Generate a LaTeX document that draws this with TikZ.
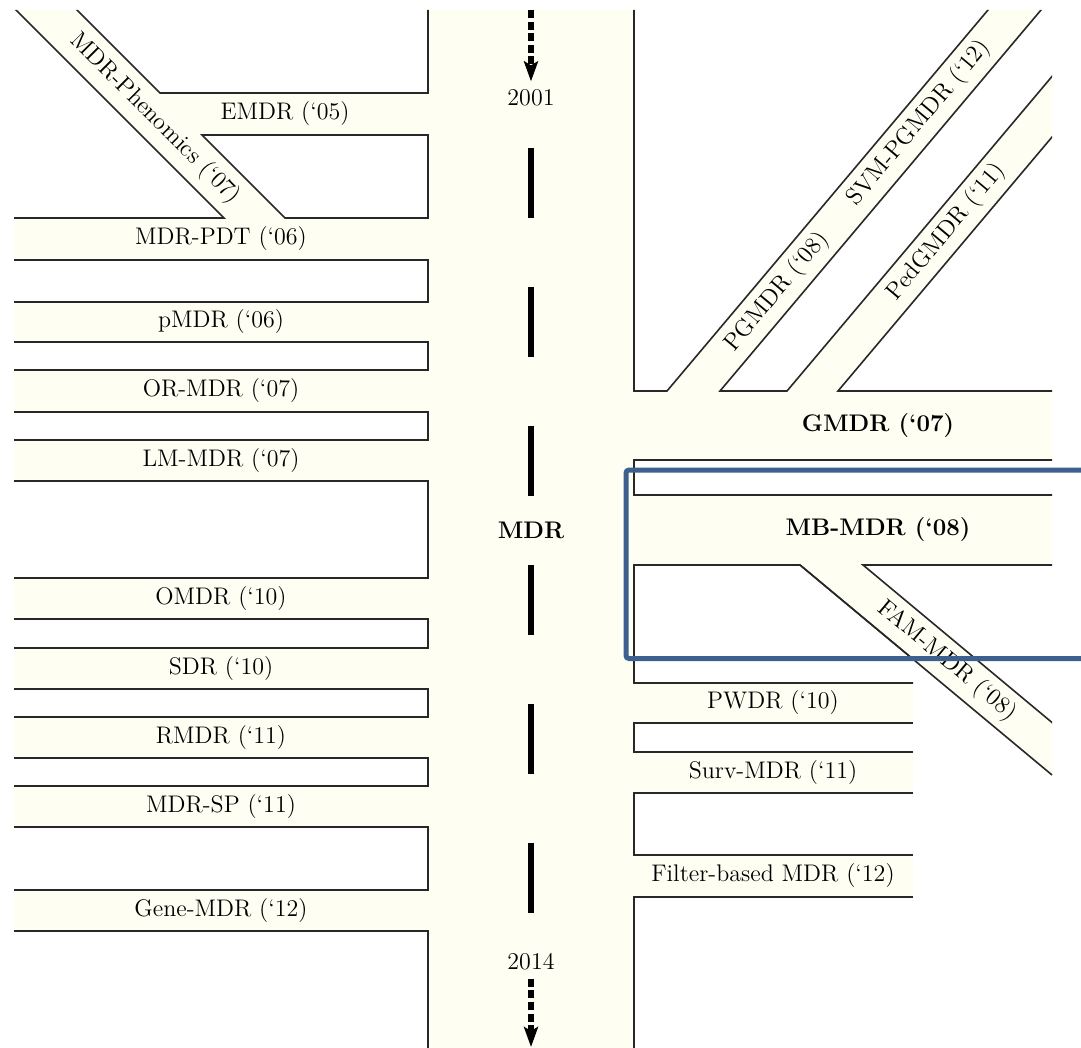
\documentclass[tikz,border=0pt]{standalone}
\usepackage{tikz}
\usetikzlibrary{arrows.meta}
\definecolor{ivory}{RGB}{255,254,243}
\definecolor{edgegrey}{RGB}{40,40,40}
\definecolor{markblue}{RGB}{61,96,142}

\begin{document}
\begin{tikzpicture}[x=0.5pt,y=-0.5pt,
  font=\fontsize{12}{14}\selectfont,
  block/.style={fill=white,draw=edgegrey,line width=0.8pt},
  road/.style={inner sep=1pt},
  mainroad/.style={road,font=\fontsize{12}{14}\selectfont\bfseries},
  year/.style={inner sep=4pt},
  lane/.style={line width=3pt,dash pattern=on 35pt off 34.5pt},
  flow/.style={line width=3pt,dash pattern=on 4pt off 1.8pt,
               -{Stealth[length=10pt,width=7pt,inset=2pt]}},
  hilite/.style={draw=markblue,line width=2.5pt,rounded corners=1.5pt}]
\useasboundingbox (0,0) rectangle (1081,1048);

\begin{scope}
\clip (14,10) -- (1052,10) -- (1052,775) -- (913,659.2) -- (913,1048) -- (14,1048) -- cycle;
\fill[ivory] (0,0) rectangle (1081,1048);

% blocks west of the main road
\path[block] (6,0) -- (224,218) -- (0,218) -- (0,0) -- cycle;
\path[block] (67,0) -- (160,93) -- (428,93) -- (428,0) -- cycle;
\path[block] (202,135) -- (428,135) -- (428,218) -- (285,218) -- cycle;
\path[block] (0,260) rectangle (428,302);
\path[block] (0,342) rectangle (428,370);
\path[block] (0,412) rectangle (428,440);
\path[block] (0,481) rectangle (428,578);
\path[block] (0,619) rectangle (428,648);
\path[block] (0,689) rectangle (428,717);
\path[block] (0,758) rectangle (428,786);
\path[block] (0,827) rectangle (428,890);
\path[block] (0,931) rectangle (428,1060);

% blocks east of the main road
\path[block] (634,0) -- (634,391) -- (667,391) -- (996.4,0) -- cycle;
\path[block] (720,391) -- (787,391) -- (1065,61) -- (1065,0) -- (1049.4,0) -- cycle;
\path[block] (838,391) -- (1065,391) -- (1065,121.6) -- cycle;
\path[block] (634,460) rectangle (1065,495);
\path[block] (913,659.2) -- (800,565) -- (634,565) -- (634,683) -- (913,683);
\path[block] (863,565) -- (1065,565) -- (1065,733.3) -- cycle;
\path[block] (913,723) -- (634,723) -- (634,752) -- (913,752);
\path[block] (913,793) -- (634,793) -- (634,855) -- (913,855);
\path[block] (913,897) -- (634,897) -- (634,1060) -- (913,1060);
\end{scope}
\draw[edgegrey,line width=0.8pt] (800,565) -- (1052,775);

% main road
\coordinate (lanetop) at (531,148);
\coordinate (lanebot) at (531,913);
\draw[lane] (lanetop) -- (lanebot);
\node[mainroad] (mdr) at (531,530) {MDR};
\coordinate (entry) at (531,10);
\coordinate (exit) at (531,1047);
\node[year] (y2001) at (531,98) {2001};
\node[year] (y2014) at (531,962) {2014};
\draw[flow] (entry) -- (y2001.north);
\draw[flow] (y2014.south) -- (exit);

% western branches
\node[road] (emdr) at (285,114) {EMDR (`05)};
\node[road,rotate=-45] (phenomics) at (155,118.5) {MDR-Phenomics (`07)};
\node[road] (mdrpdt) at (221,239) {MDR-PDT (`06)};
\node[road] (pmdr) at (221,322) {pMDR (`06)};
\node[road] (ormdr) at (221,391) {OR-MDR (`07)};
\node[road] (lmmdr) at (221,460.5) {LM-MDR (`07)};
\node[road] (omdr) at (221,598.5) {OMDR (`10)};
\node[road] (sdr) at (221,668.5) {SDR (`10)};
\node[road] (rmdr) at (221,737.5) {RMDR (`11)};
\node[road] (mdrsp) at (221,806.5) {MDR-SP (`11)};
\node[road] (genemdr) at (221,910.5) {Gene-MDR (`12)};

% eastern branches
\node[road,rotate=50] (pgmdr) at (777,292) {PGMDR (`08)};
\node[road,rotate=50] (svmpgmdr) at (919,123) {SVM-PGMDR (`12)};
\node[road,rotate=50] (pedgmdr) at (946.5,232) {PedGMDR (`11)};
\node[mainroad] (gmdr) at (878,425.5) {GMDR (`07)};
\node[mainroad] (mbmdr) at (878,530) {MB-MDR (`08)};
\node[road,rotate=-39.8] (fammdr) at (947,661) {FAM-MDR (`08)};
\node[road] (pwdr) at (773,703) {PWDR (`10)};
\node[road] (survmdr) at (773,772.5) {Surv-MDR (`11)};
\node[road] (filtermdr) at (773,876) {Filter-based MDR (`12)};

% highlight
\draw[hilite] (1081,470) -- (626,470) -- (626,658.5) -- (1081,658.5);
\end{tikzpicture}
\end{document}
